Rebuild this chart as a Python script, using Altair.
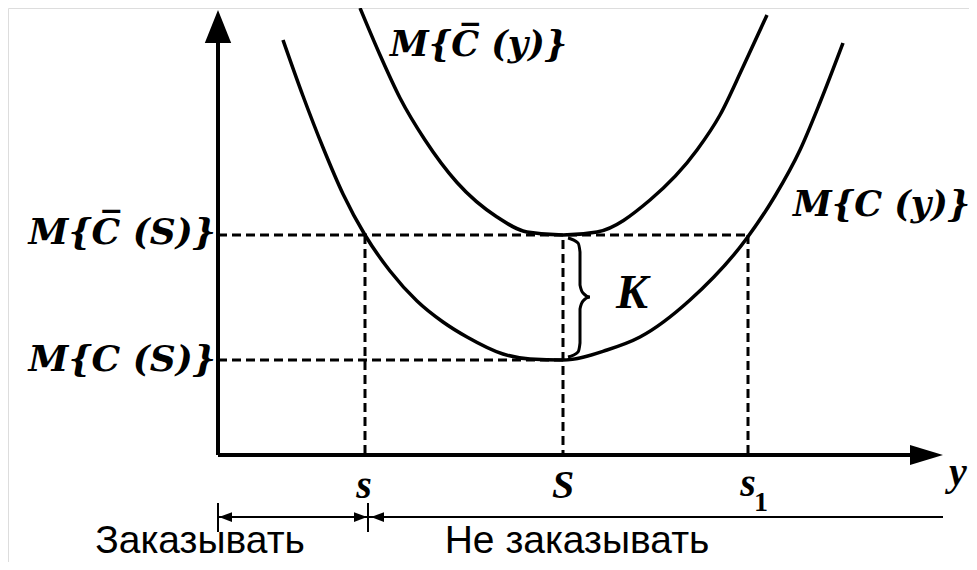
import altair as alt
import pandas as pd

# ---- data (units) ----
# lower curve M{C(y)}
low_x = [1.30, 1.70, 2.10, 2.50, 2.94, 3.44, 3.98, 4.50, 4.98, 5.70, 6.24, 6.90, 7.78, 8.44, 9.44, 10.58, 11.14, 11.64, 12.04, 12.50]
low_y = [8.30, 7.18, 6.15, 5.22, 4.40, 3.68, 3.08, 2.66, 2.36, 2.02, 1.92, 1.90, 2.10, 2.36, 3.10, 4.34, 5.18, 6.10, 7.05, 8.24]
# upper curve M{C̄(y)}
up_x = [2.84, 3.24, 3.64, 4.14, 4.78, 5.58, 6.18, 6.90, 7.58, 8.64, 9.58, 10.04, 10.50, 10.98]
up_y = [8.94, 8.00, 7.14, 6.30, 5.45, 4.76, 4.46, 4.40, 4.46, 5.10, 6.10, 6.80, 7.76, 8.80]

s_val, S_val, s1_val = 2.94, 6.90, 10.60
level_low, level_up = 1.90, 4.40

# brace "}" between the two levels
brace_x = [7.00, 7.20, 7.24, 7.24, 7.30, 7.44, 7.30, 7.24, 7.24, 7.20, 7.00]
brace_y = [4.34, 4.24, 4.06, 3.40, 3.24, 3.16, 3.08, 2.92, 2.24, 2.06, 1.96]

XMIN, XMAX = -4.2, 15.02
YMIN, YMAX = -2.14, 8.94

xs = alt.Scale(domain=[XMIN, XMAX], nice=False, zero=False)
ys = alt.Scale(domain=[YMIN, YMAX], nice=False, zero=False)


def X(f="x"):
    return alt.X(f, type="quantitative", scale=xs, axis=None)


def Y(f="y"):
    return alt.Y(f, type="quantitative", scale=ys, axis=None)


lower = pd.DataFrame({"x": low_x, "y": low_y})
upper = pd.DataFrame({"x": up_x, "y": up_y})
brace = pd.DataFrame({"x": brace_x, "y": brace_y, "i": list(range(len(brace_x)))})

curves = alt.layer(
    alt.Chart(lower).mark_line(color="black", strokeWidth=3.5, interpolate="monotone").encode(x=X(), y=Y()),
    alt.Chart(upper).mark_line(color="black", strokeWidth=3.5, interpolate="monotone").encode(x=X(), y=Y()),
)

brace_line = alt.Chart(brace).mark_line(color="black", strokeWidth=3, interpolate="monotone").encode(
    x=X(), y=Y(), order="i:Q")

# dashed guide lines
dash = pd.DataFrame({
    "x":  [0.0, 0.0, s_val, S_val, s1_val],
    "x2": [s1_val, S_val, s_val, S_val, s1_val],
    "y":  [level_up, level_low, level_up, level_up - 0.1, level_up],
    "y2": [level_up, level_low, 0.0, 0.0, 0.0],
})
dashed = alt.Chart(dash).mark_rule(color="black", strokeWidth=3, strokeDash=[9, 5]).encode(
    x=X(), x2="x2", y=Y(), y2="y2")

# axes
axes_df = pd.DataFrame({"x": [0.0, 0.0], "x2": [0.0, 14.0], "y": [0.0, 0.0], "y2": [8.5, 0.0]})
axes = alt.Chart(axes_df).mark_rule(color="black", strokeWidth=4).encode(x=X(), x2="x2", y=Y(), y2="y2")

arrow_up = alt.Chart(pd.DataFrame({"x": [0.0], "y": [8.57]})).mark_point(
    shape="M0,-1L0.8,1L-0.8,1Z", size=1089, filled=True, color="black", opacity=1).encode(x=X(), y=Y())
arrow_right = alt.Chart(pd.DataFrame({"x": [14.17], "y": [0.0]})).mark_point(
    shape="M1,0L-1,-0.6L-1,0.6Z", size=1089, filled=True, color="black", opacity=1).encode(x=X(), y=Y())

# bottom bracket: order / don't order
br_y = -1.24
bracket_h = pd.DataFrame({"x": [0.0, 3.0], "x2": [3.0, 14.5], "y": [br_y, br_y]})
bracket_lines = alt.Chart(bracket_h).mark_rule(color="black", strokeWidth=2).encode(x=X(), x2="x2", y=Y())
bracket_ticks = alt.Chart(pd.DataFrame({"x": [0.0, 3.0], "y": [-0.96, -0.96], "y2": [-1.54, -1.54]})).mark_rule(
    color="black", strokeWidth=2).encode(x=X(), y=Y(), y2="y2")
arr_left = alt.Chart(pd.DataFrame({"x": [0.15, 3.19], "y": [br_y, br_y]})).mark_point(
    shape="M-1,0L1,-0.75L1,0.75Z", size=169, filled=True, color="black", opacity=1).encode(x=X(), y=Y())
arr_right = alt.Chart(pd.DataFrame({"x": [2.85], "y": [br_y]})).mark_point(
    shape="M1,0L-1,-0.75L-1,0.75Z", size=169, filled=True, color="black", opacity=1).encode(x=X(), y=Y())

# texts
mfont = "DejaVu Serif"
serif = "Liberation Serif"
ylabels = pd.DataFrame({"x": [-0.04, -0.04], "y": [4.44, 1.90],
                        "t": ["M{C\u0305 (S)}", "M{C (S)}"]})
ylab = alt.Chart(ylabels).mark_text(font=mfont, fontSize=36, fontStyle="italic", fontWeight="bold",
                                    align="right", baseline="middle").encode(x=X(), y=Y(), text="t:N")

curve_labels = pd.DataFrame({"x": [3.44, 11.5], "y": [8.2, 5.0],
                             "t": ["M{C\u0305 (y)}", "M{C (y)}"]})
clab = alt.Chart(curve_labels).mark_text(font=mfont, fontSize=35, fontStyle="italic", fontWeight="bold",
                                         align="left", baseline="middle").encode(x=X(), y=Y(), text="t:N")

xlabels = pd.DataFrame({"x": [2.92, 6.90, 10.6], "y": [-0.62, -0.62, -0.58],
                        "t": ["s", "S", "s"]})
xlab = alt.Chart(xlabels).mark_text(font=serif, fontSize=40, fontStyle="italic", fontWeight="bold",
                                    align="center", baseline="middle").encode(x=X(), y=Y(), text="t:N")
sub1 = alt.Chart(pd.DataFrame({"x": [10.86], "y": [-0.96], "t": ["1"]})).mark_text(
    font=serif, fontSize=28, fontWeight="bold", align="center", baseline="middle").encode(x=X(), y=Y(), text="t:N")
y_lab = alt.Chart(pd.DataFrame({"x": [14.62], "y": [-0.36], "t": ["y"]})).mark_text(
    font=serif, fontSize=40, fontStyle="italic", fontWeight="bold", align="left", baseline="middle").encode(
    x=X(), y=Y(), text="t:N")

k_lab = alt.Chart(pd.DataFrame({"x": [8.28], "y": [3.22], "t": ["K"]})).mark_text(
    font=serif, fontSize=48, fontStyle="italic", fontWeight="bold", align="center", baseline="middle").encode(
    x=X(), y=Y(), text="t:N")

bottom = pd.DataFrame({"x": [-0.36, 7.18], "y": [-1.96, -1.96], "t": ["Заказывать", "Не заказывать"]})
blab = alt.Chart(bottom).mark_text(font="Liberation Sans", fontSize=39, align="center",
                                   baseline="alphabetic").encode(x=X(), y=Y(), text="t:N")

chart = alt.layer(
    dashed, axes, arrow_up, arrow_right, curves, brace_line,
    bracket_lines, bracket_ticks, arr_left, arr_right,
    ylab, clab, xlab, sub1, y_lab, k_lab, blab,
).properties(
    width=961, height=554, autosize=alt.AutoSizeParams(type="none"), padding=0
).configure_view(stroke=None).configure(background="white")

chart.save("out.html", embed_options={"renderer": "svg", "actions": False})
